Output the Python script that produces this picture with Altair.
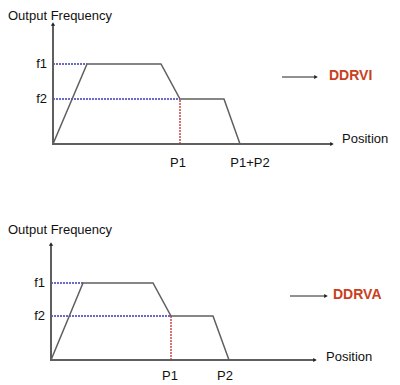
import altair as alt
import pandas as pd

FONT = "Liberation Sans"
GREY = "#5f5f5f"
BLUE = "#3a3ab8"
RED = "#d04444"
ACCENT = "#c8401e"

# ---------- panel 1 (DDRVI) ----------
p1_prof_x = [0, 34, 108, 127, 171, 187]
p1_prof_y = [0, 80, 80, 45, 45, 0]
p1_f_vals = [80, 45]
p1_f_ends = [34, 127]
p1_f_labels = ["f1", "f2"]
p1_marker_x = 127
p1_p_labels = ["P1", "P1+P2"]
p1_p_label_x = [125, 197]
p1_axis_x_end = 279
p1_axis_y_end = 120
p1_name = "DDRVI"

# ---------- panel 2 (DDRVA) ----------
p2_prof_x = [0, 32, 102, 120, 162, 178]
p2_prof_y = [0, 77, 77, 44, 44, 0]
p2_f_vals = [77, 44]
p2_f_ends = [32, 120]
p2_f_labels = ["f1", "f2"]
p2_marker_x = 120
p2_p_labels = ["P1", "P2"]
p2_p_label_x = [119, 174]
p2_axis_x_end = 264
p2_axis_y_end = 116
p2_name = "DDRVA"


def panel(prof_x, prof_y, f_vals, f_ends, f_labels, marker_x, p_labels, p_label_x,
          axis_x_end, axis_y_end, name, xdom, ydom, w, h,
          title_pos, pos_pos, arrow_pos, name_pos, label_dy):
    xs = alt.Scale(domain=xdom, zero=False, nice=False)
    ys = alt.Scale(domain=ydom, zero=False, nice=False)

    def X(f="x"):
        return alt.X(f"{f}:Q", scale=xs, axis=None)

    def Y(f="y"):
        return alt.Y(f"{f}:Q", scale=ys, axis=None)

    axes_df = pd.DataFrame({"x": [0, 0, axis_x_end], "y": [axis_y_end, 0, 0], "o": [0, 1, 2]})
    axes = alt.Chart(axes_df).mark_line(color=GREY, strokeWidth=2).encode(
        x=X(), y=Y(), order="o:Q")

    up_df = pd.DataFrame({"x": [0], "y": [axis_y_end]})
    up = alt.Chart(up_df).mark_point(shape="triangle-up", filled=True, size=18,
                                     color="#222", opacity=1).encode(x=X(), y=Y())
    right_df = pd.DataFrame({"x": [axis_x_end, arrow_pos[1]], "y": [0, arrow_pos[2]]})
    right = alt.Chart(right_df).mark_point(shape="triangle-right", filled=True, size=18,
                                           color="#222", opacity=1).encode(x=X(), y=Y())

    prof_df = pd.DataFrame({"x": prof_x, "y": prof_y, "o": list(range(len(prof_x)))})
    prof = alt.Chart(prof_df).mark_line(color=GREY, strokeWidth=1.5).encode(
        x=X(), y=Y(), order="o:Q")

    fdf = pd.DataFrame({"x": [0] * len(f_vals), "x2": f_ends, "y": f_vals, "lab": f_labels})
    fdots = alt.Chart(fdf).mark_rule(color=BLUE, strokeWidth=1.5, strokeDash=[2, 1]).encode(
        x=X(), x2="x2:Q", y=Y())
    flabs = alt.Chart(fdf).mark_text(align="right", baseline="middle", dx=-6, font=FONT,
                                     fontSize=13, color="#111").encode(x=X(), y=Y(), text="lab:N")

    mdf = pd.DataFrame({"x": [marker_x], "y": [0], "y2": [f_vals[1]]})
    mdots = alt.Chart(mdf).mark_rule(color=RED, strokeWidth=1.5, strokeDash=[2, 1]).encode(
        x=X(), y=Y(), y2="y2:Q")

    pdf = pd.DataFrame({"x": p_label_x, "y": [0] * len(p_label_x), "lab": p_labels})
    plabs = alt.Chart(pdf).mark_text(align="center", baseline="middle", dy=label_dy, font=FONT,
                                     fontSize=13, color="#111").encode(x=X(), y=Y(), text="lab:N")

    tdf = pd.DataFrame({"x": [title_pos[0]], "y": [title_pos[1]], "lab": ["Output Frequency"]})
    title = alt.Chart(tdf).mark_text(align="left", baseline="middle", font=FONT, fontSize=13,
                                     color="#111").encode(x=X(), y=Y(), text="lab:N")

    posdf = pd.DataFrame({"x": [pos_pos[0]], "y": [pos_pos[1]], "lab": ["Position"]})
    poslab = alt.Chart(posdf).mark_text(align="left", baseline="middle", font=FONT, fontSize=13,
                                        color="#111").encode(x=X(), y=Y(), text="lab:N")

    adf = pd.DataFrame({"x": [arrow_pos[0]], "x2": [arrow_pos[1]], "y": [arrow_pos[2]]})
    arrow = alt.Chart(adf).mark_rule(color="#222", strokeWidth=1).encode(x=X(), x2="x2:Q", y=Y())

    ndf = pd.DataFrame({"x": [name_pos[0]], "y": [name_pos[1]], "lab": [name]})
    nlab = alt.Chart(ndf).mark_text(align="left", baseline="middle", font=FONT, fontSize=14,
                                    fontWeight="bold", color=ACCENT).encode(x=X(), y=Y(), text="lab:N")

    return alt.layer(fdots, mdots, axes, prof, up, right, arrow, flabs, plabs, title, poslab,
                     nlab).properties(width=w, height=h)


top = panel(p1_prof_x, p1_prof_y, p1_f_vals, p1_f_ends, p1_f_labels, p1_marker_x,
            p1_p_labels, p1_p_label_x, p1_axis_x_end, p1_axis_y_end, p1_name,
            xdom=[-45, 339], ydom=[-56, 136], w=384, h=192,
            title_pos=(-45, 128), pos_pos=(289, 5), arrow_pos=(229, 263, 67), name_pos=(276, 68),
            label_dy=19)

bottom = panel(p2_prof_x, p2_prof_y, p2_f_vals, p2_f_ends, p2_f_labels, p2_marker_x,
               p2_p_labels, p2_p_label_x, p2_axis_x_end, p2_axis_y_end, p2_name,
               xdom=[-43, 341], ydom=[-25, 160], w=384, h=185,
               title_pos=(-43, 130), pos_pos=(275, 3), arrow_pos=(239, 275, 64), name_pos=(282, 65),
               label_dy=16)

chart = alt.vconcat(top, bottom, spacing=0).properties(
    padding=0
).configure_view(stroke=None).configure_concat(spacing=0)

chart.save("out.html", embed_options={"renderer": "svg", "actions": False})
